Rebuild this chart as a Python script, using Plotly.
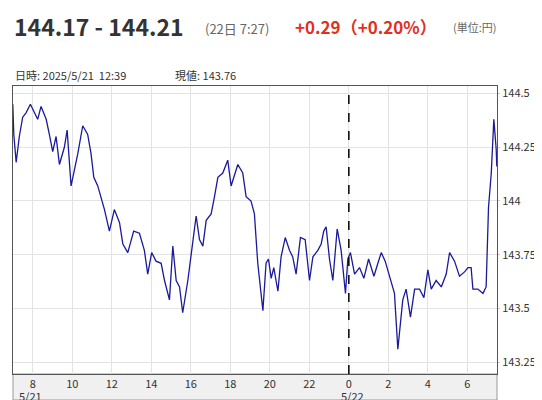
import plotly.graph_objects as go

hours = [6.99,7.04,7.16,7.32,7.49,7.66,7.88,8.08,8.25,8.42,8.68,8.84,9.01,9.18,9.35,9.60,9.74,9.94,10.11,10.28,
         10.53,10.78,10.95,11.09,11.29,11.46,11.63,11.88,12.13,12.39,12.56,12.81,13.11,13.40,13.65,13.82,14.02,14.24,
         14.50,14.67,14.92,15.09,15.26,15.43,15.59,15.85,16.10,16.27,16.44,16.61,16.78,17.03,17.20,17.37,17.62,17.87,
         18.04,18.21,18.38,18.63,18.80,19.05,19.22,19.39,19.53,19.65,19.81,
         19.93,20.07,20.20,20.41,20.57,20.78,21.00,21.16,21.33,21.55,21.79,22.01,22.18,22.43,22.60,22.73,22.85,23.02,
         23.19,23.41,23.61,23.83,23.95,24.08,24.29,24.54,24.76,25.00,25.27,25.47,25.64,25.84,26.06,26.31,26.48,26.62,
         26.73,26.90,27.12,27.33,27.58,27.80,28.00,28.17,28.42,28.68,28.93,29.10,29.35,29.60,29.86,30.03,30.19,30.28,
         30.53,30.79,30.95,31.07,31.21,31.34,31.46,31.49]
prices = [144.45,144.31,144.18,144.30,144.39,144.41,144.45,144.41,144.38,144.44,144.38,144.31,144.23,144.30,144.17,144.25,144.33,144.07,144.14,144.22,
          144.35,144.31,144.22,144.11,144.07,144.02,143.96,143.86,143.96,143.90,143.80,143.76,143.86,143.85,143.77,143.66,143.76,143.72,
          143.71,143.63,143.54,143.79,143.63,143.60,143.48,143.63,143.80,143.93,143.82,143.79,143.91,143.94,144.02,144.11,144.13,144.19,
          144.07,144.12,144.17,144.13,144.02,144.00,143.94,143.71,143.60,143.49,143.71,
          143.73,143.64,143.69,143.58,143.74,143.83,143.77,143.74,143.66,143.83,143.82,143.63,143.74,143.77,143.80,143.86,143.88,143.73,
          143.63,143.87,143.77,143.57,143.73,143.76,143.66,143.69,143.64,143.73,143.65,143.71,143.76,143.72,143.65,143.57,143.31,143.46,
          143.54,143.59,143.46,143.59,143.59,143.55,143.68,143.59,143.63,143.60,143.66,143.76,143.72,143.65,143.67,143.69,143.69,143.59,
          143.59,143.57,143.60,143.97,144.13,144.38,144.24,144.16]
x_tickvals = [8,10,12,14,16,18,20,22,24,26,28,30]
x_ticktext = ["8","10","12","14","16","18","20","22","0","2","4","6"]
date_ticks = [8, 24]
date_labels = ["5/21", "5/22"]
y_tickvals = [143.25,143.5,143.75,144,144.25,144.5]
y_ticktext = ["143.25","143.5","143.75","144","144.25","144.5"]
day_break = 24

FONT = "Noto Sans CJK JP"
L, R, T, B = 5, 53, 78, 34
fig = go.Figure(go.Scatter(x=hours, y=prices, mode="lines",
                           line=dict(color="#1a1a9a", width=1.3), hoverinfo="skip"))
fig.update_layout(
    width=542, height=400, margin=dict(l=L, r=R, t=T, b=B, autoexpand=False),
    plot_bgcolor="white", paper_bgcolor="white", showlegend=False,
    font=dict(family=FONT, size=11, color="#333"),
    xaxis=dict(range=[7.0, 31.5], tickvals=x_tickvals, ticktext=x_ticktext, automargin=False,
               showgrid=True, gridcolor="#e3e3e3", zeroline=False,
               showline=True, linecolor="#555", mirror=True, ticks="", ticklabelstandoff=0,
               tickfont=dict(size=11, color="#333")),
    yaxis=dict(range=[143.195, 144.535], side="right", tickvals=y_tickvals, ticktext=y_ticktext,
               automargin=False, showgrid=True, gridcolor="#e3e3e3", zeroline=False,
               showline=True, linecolor="#555", mirror=True, ticks="outside", ticklen=2,
               tickcolor="#ccc", tickfont=dict(size=11, color="#333")),
)
fig.add_shape(type="rect", xref="paper", yref="paper", x0=0, x1=1, y0=-26/288, y1=0,
              fillcolor="#f0f0f0", line=dict(color="#999", width=1), layer="below")
fig.add_shape(type="line", xref="x", yref="paper", x0=day_break, x1=day_break, y0=0, y1=1,
              line=dict(color="black", width=1.5, dash="dash"))
for xv, lab in zip(date_ticks, date_labels):
    fig.add_annotation(xref="x", yref="paper", x=xv, y=-22/288, text=lab, showarrow=False,
                       xanchor="center", yanchor="middle", xshift=4 if xv == 24 else -2,
                       font=dict(size=11, color="#333", family=FONT))

plot_w, plot_h = 542 - L - R, 400 - T - B
ann = [
    dict(x=4, y=18, text="<b>144.17 - 144.21</b>", size=23, color="#333"),
    dict(x=195, y=20, text="(22日 7:27)", size=13, color="#666"),
    dict(x=285, y=19, text="<b>+0.29（+0.20%）</b>", size=17, color="#e0301e"),
    dict(x=443, y=19, text="(単位:円)", size=11, color="#666"),
    dict(x=5, y=67, text="日時: 2025/5/21  12:39", size=11, color="#333"),
    dict(x=165, y=67, text="現値: 143.76", size=11, color="#333"),
]
for a in ann:
    fig.add_annotation(xref="paper", yref="paper",
                       x=(a["x"] - L) / plot_w, y=(400 - B - a["y"]) / plot_h,
                       text=a["text"], showarrow=False, xanchor="left", yanchor="middle",
                       font=dict(size=a["size"], color=a["color"], family=FONT))
fig.write_html("out.html")
